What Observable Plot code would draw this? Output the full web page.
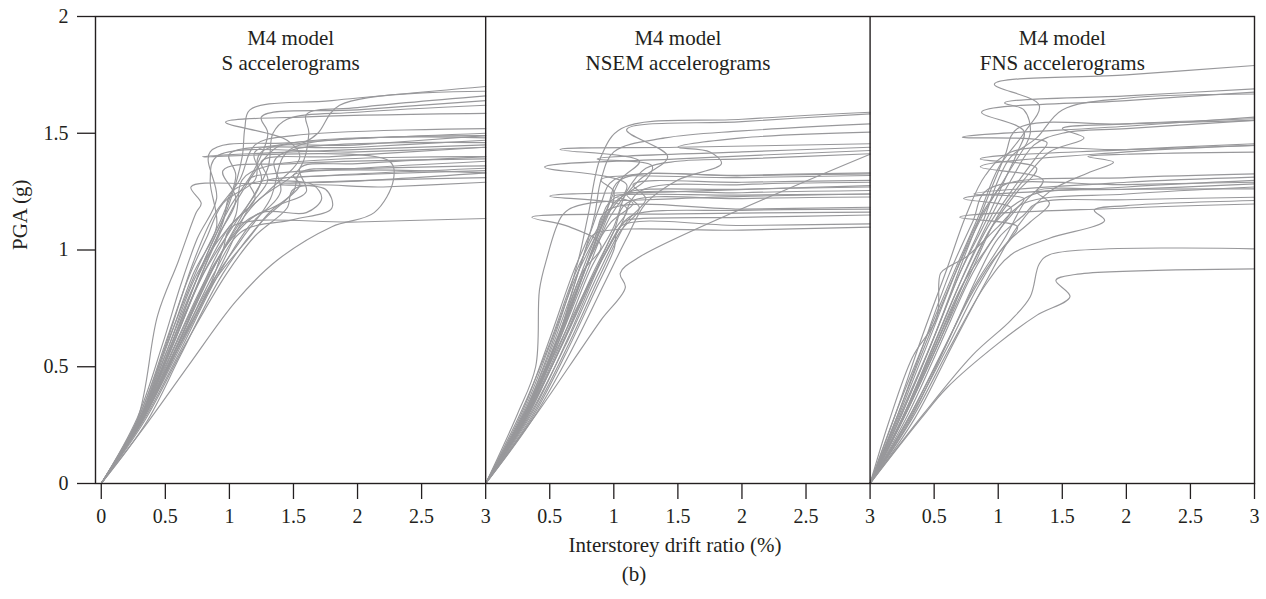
<!DOCTYPE html>
<html><head><meta charset="utf-8">
<script src="https://cdn.jsdelivr.net/npm/d3@7"></script>
<script src="https://cdn.jsdelivr.net/npm/@observablehq/plot@0.6"></script>
<style>body{margin:0;background:#fff}</style>
</head><body><div id="chart"></div>
<script>
// ---- data (drift %, PGA g) ----
const panelNames = ["S", "NSEM", "FNS"];
const panelTitles = ["M4 model\nS accelerograms", "M4 model\nNSEM accelerograms", "M4 model\nFNS accelerograms"];
const xTickValues = [0, 0.5, 1, 1.5, 2, 2.5, 3];
const yTickValues = [0, 0.5, 1, 1.5, 2];
const yLabel = "PGA (g)";
const xLabel = "Interstorey drift ratio (%)";
const caption = "(b)";

const sCurves = [
  [[0,0],[0.28,0.27],[0.44,0.72],[0.6,0.95],[0.74,1.16],[0.78,1.2],[0.70,1.27],[1.2,1.285],[1.8,1.29],[3,1.33]],
  [[0,0],[0.36,0.26],[0.7,0.52],[1.05,0.78],[1.37,0.955],[1.8,1.1],[2.13,1.16],[2.28,1.3],[2.25,1.38],[0.79,1.40],[1.5,1.42],[3,1.45]],
  [[0,0],[0.3,0.27],[0.6,0.58],[0.85,0.85],[0.95,1.0],[1.02,1.1],[2,1.12],[3,1.135]],
  [[0,0],[0.3,0.28],[0.5,0.55],[0.75,0.9],[1.0,1.1],[1.3,1.25],[1.55,1.4],[1.45,1.47],[0.97,1.547],[1.6,1.57],[3,1.585]],
  [[0,0],[0.3,0.27],[0.55,0.6],[0.8,0.95],[1.0,1.2],[1.1,1.4],[1.12,1.52],[1.16,1.60],[1.8,1.64],[3,1.70]],
  [[0,0],[0.32,0.27],[0.6,0.6],[0.9,0.95],[1.1,1.15],[1.3,1.35],[1.34,1.5],[1.45,1.56],[2,1.59],[3,1.62]],
  [[0,0],[0.3,0.28],[0.58,0.62],[0.85,0.98],[1.1,1.25],[1.37,1.44],[1.58,1.46],[1.69,1.50],[1.86,1.62],[3,1.68]],
  [[0,0],[0.3,0.27],[0.6,0.6],[0.9,0.95],[1.2,1.2],[1.55,1.35],[1.62,1.5],[1.6,1.58],[2,1.61],[3,1.66]],
  [[0,0],[0.28,0.27],[0.5,0.58],[0.75,0.92],[0.95,1.15],[1.05,1.32],[1.0,1.41],[2,1.44],[3,1.47]],
  [[0,0],[0.3,0.26],[0.55,0.58],[0.8,0.9],[1.05,1.12],[1.25,1.3],[1.2,1.42],[2,1.45],[3,1.49]],
  [[0,0],[0.33,0.27],[0.6,0.55],[0.9,0.88],[1.15,1.1],[1.4,1.25],[1.35,1.38],[1.5,1.43],[3,1.46]],
  [[0,0],[0.3,0.28],[0.52,0.6],[0.72,0.9],[0.9,1.1],[0.85,1.3],[0.9,1.4],[2,1.42],[3,1.44]],
  [[0,0],[0.35,0.26],[0.62,0.55],[0.95,0.9],[1.25,1.12],[1.5,1.25],[1.55,1.33],[2,1.35],[3,1.38]],
  [[0,0],[0.3,0.27],[0.58,0.6],[0.82,0.88],[1.02,1.05],[1.25,1.16],[1.6,1.16],[1.72,1.22],[1.65,1.28],[1.3,1.30],[3,1.34]],
  [[0,0],[0.32,0.27],[0.6,0.58],[0.88,0.9],[1.1,1.08],[1.5,1.13],[1.8,1.18],[1.75,1.26],[1.4,1.28],[3,1.31]],
  [[0,0],[0.3,0.27],[0.55,0.6],[0.78,0.88],[1.0,1.1],[1.2,1.22],[1.15,1.3],[1.4,1.33],[3,1.36]],
  [[0,0],[0.3,0.26],[0.6,0.6],[0.85,0.92],[1.05,1.15],[1.1,1.3],[1.3,1.36],[3,1.40]],
  [[0,0],[0.33,0.28],[0.65,0.62],[0.95,0.95],[1.15,1.18],[1.3,1.3],[1.25,1.38],[1.8,1.4],[3,1.44]],
  [[0,0],[0.3,0.27],[0.5,0.55],[0.7,0.82],[0.9,1.05],[1.05,1.22],[0.95,1.34],[1.5,1.37],[3,1.39]],
  [[0,0],[0.31,0.27],[0.57,0.58],[0.85,0.9],[1.12,1.12],[1.4,1.2],[1.55,1.28],[1.5,1.32],[3,1.33]],
  [[0,0],[0.29,0.28],[0.5,0.6],[0.68,0.88],[0.82,1.05],[0.95,1.2],[1.2,1.3],[1.25,1.42],[3,1.48]],
  [[0,0],[0.34,0.27],[0.66,0.6],[0.98,0.9],[1.2,1.06],[1.45,1.18],[1.5,1.26],[2.2,1.27],[3,1.29]],
  [[0,0],[0.3,0.27],[0.56,0.6],[0.8,0.92],[0.95,1.12],[1.02,1.25],[1.3,1.3],[1.8,1.32],[3,1.35]],
  [[0,0],[0.28,0.28],[0.48,0.6],[0.62,0.85],[0.75,1.05],[0.9,1.22],[0.85,1.42],[1.5,1.46],[3,1.5]],
  [[0,0],[0.32,0.27],[0.62,0.6],[0.9,0.88],[1.15,1.05],[1.35,1.18],[1.6,1.25],[1.55,1.35],[2,1.37],[3,1.40]],
  [[0,0],[0.31,0.26],[0.58,0.57],[0.85,0.85],[1.1,1.05],[1.32,1.22],[1.42,1.4],[1.55,1.45],[3,1.49]],
  [[0,0],[0.3,0.27],[0.55,0.6],[0.8,0.95],[1.0,1.18],[1.2,1.35],[1.3,1.5],[1.25,1.57],[2,1.6],[3,1.64]],
  [[0,0],[0.3,0.28],[0.52,0.62],[0.72,0.95],[0.88,1.15],[1.08,1.3],[1.2,1.45],[1.5,1.49],[3,1.52]]
];

const nsemCurves = [
  [[0,0],[0.25,0.3],[0.39,0.5],[0.42,0.83],[0.47,0.95],[0.6,1.15],[0.72,1.19],[1.5,1.22],[3,1.24]],
  [[0,0],[0.3,0.27],[0.55,0.6],[0.75,0.9],[0.9,1.02],[0.65,1.1],[0.36,1.14],[1.5,1.155],[3,1.162]],
  [[0,0],[0.32,0.3],[0.6,0.65],[0.8,0.95],[0.95,1.15],[1.1,1.28],[0.46,1.355],[1.5,1.39],[3,1.426]],
  [[0,0],[0.33,0.3],[0.62,0.62],[0.85,0.9],[1.0,1.08],[1.1,1.18],[0.5,1.23],[1.5,1.25],[3,1.276]],
  [[0,0],[0.3,0.28],[0.55,0.6],[0.78,0.92],[0.9,1.1],[1.05,1.3],[1.2,1.38],[0.58,1.43],[1.5,1.44],[3,1.455]],
  [[0,0],[0.3,0.3],[0.55,0.65],[0.72,0.95],[0.8,1.15],[0.9,1.4],[1.06,1.52],[2,1.56],[3,1.59]],
  [[0,0],[0.31,0.28],[0.58,0.62],[0.8,0.92],[0.98,1.15],[1.2,1.3],[1.42,1.40],[1.1,1.515],[2,1.55],[3,1.583]],
  [[0,0],[0.4,0.3],[0.65,0.5],[0.9,0.7],[1.09,0.84],[1.05,0.9],[1.2,0.97],[3,1.41]],
  [[0,0],[0.3,0.28],[0.55,0.6],[0.72,0.9],[0.8,1.03],[0.85,1.07],[2,1.085],[3,1.098]],
  [[0,0],[0.35,0.27],[0.62,0.55],[0.85,0.82],[1.0,1.0],[1.05,1.1],[2,1.105],[3,1.112]],
  [[0,0],[0.29,0.3],[0.52,0.62],[0.7,0.88],[0.85,1.05],[0.95,1.17],[2,1.175],[3,1.183]],
  [[0,0],[0.33,0.29],[0.58,0.58],[0.82,0.88],[1.0,1.08],[1.1,1.2],[2,1.22],[3,1.227]],
  [[0,0],[0.3,0.3],[0.6,0.66],[0.8,0.95],[0.98,1.12],[1.15,1.2],[1.0,1.23],[2,1.235],[3,1.24]],
  [[0,0],[0.27,0.3],[0.5,0.6],[0.7,0.9],[0.88,1.1],[1.0,1.22],[2,1.245],[3,1.255]],
  [[0,0],[0.32,0.28],[0.6,0.6],[0.85,0.9],[1.05,1.1],[1.2,1.25],[2,1.28],[3,1.29]],
  [[0,0],[0.34,0.27],[0.65,0.6],[0.9,0.9],[1.1,1.12],[1.25,1.22],[1.15,1.28],[2,1.29],[3,1.298]],
  [[0,0],[0.3,0.29],[0.56,0.62],[0.76,0.9],[0.92,1.1],[1.0,1.25],[0.9,1.3],[2,1.31],[3,1.319]],
  [[0,0],[0.31,0.3],[0.57,0.64],[0.78,0.95],[0.95,1.18],[1.05,1.3],[2,1.318],[3,1.326]],
  [[0,0],[0.3,0.28],[0.55,0.6],[0.75,0.88],[0.9,1.1],[1.0,1.2],[1.25,1.3],[1.3,1.36],[0.87,1.39],[2,1.42],[3,1.44]],
  [[0,0],[0.36,0.27],[0.66,0.56],[0.92,0.85],[1.1,1.05],[1.25,1.2],[1.5,1.3],[1.84,1.37],[1.75,1.42],[1.5,1.44],[2,1.48],[3,1.505]],
  [[0,0],[0.3,0.3],[0.55,0.63],[0.75,0.95],[0.85,1.15],[0.9,1.3],[1.0,1.42],[1.4,1.48],[2,1.51],[3,1.54]],
  [[0,0],[0.32,0.29],[0.6,0.62],[0.82,0.92],[1.0,1.1],[1.1,1.25],[1.25,1.35],[1.5,1.38],[2,1.39],[3,1.412]],
  [[0,0],[0.33,0.28],[0.63,0.6],[0.88,0.9],[1.05,1.08],[1.2,1.18],[1.1,1.24],[2,1.26],[3,1.27]],
  [[0,0],[0.28,0.3],[0.5,0.62],[0.68,0.9],[0.82,1.08],[0.9,1.2],[1.0,1.3],[2,1.32],[3,1.33]],
  [[0,0],[0.35,0.29],[0.64,0.62],[0.9,0.95],[1.05,1.1],[1.15,1.15],[2,1.17],[3,1.175]],
  [[0,0],[0.3,0.28],[0.56,0.58],[0.8,0.85],[0.95,1.0],[1.08,1.12],[1.12,1.13],[2,1.14],[3,1.15]]
];

const fnsCurves = [
  [[0,0],[0.2,0.3],[0.42,0.6],[0.65,0.9],[0.85,1.15],[1.0,1.35],[1.2,1.5],[1.32,1.62],[0.97,1.71],[2,1.75],[3,1.79]],
  [[0,0],[0.25,0.3],[0.48,0.6],[0.7,0.9],[0.9,1.12],[1.05,1.3],[1.15,1.42],[1.2,1.51],[0.87,1.59],[2,1.64],[3,1.676]],
  [[0,0],[0.22,0.3],[0.45,0.62],[0.68,0.92],[0.88,1.15],[1.1,1.35],[1.25,1.5],[1.2,1.6],[1.05,1.63],[2,1.66],[3,1.69]],
  [[0,0],[0.25,0.28],[0.5,0.6],[0.72,0.88],[0.92,1.1],[1.1,1.25],[1.3,1.4],[1.38,1.46],[0.72,1.483],[2,1.53],[3,1.569]],
  [[0,0],[0.28,0.3],[0.55,0.62],[0.8,0.92],[1.0,1.15],[1.2,1.3],[1.4,1.42],[1.67,1.48],[1.5,1.52],[2,1.54],[3,1.562]],
  [[0,0],[0.24,0.3],[0.5,0.63],[0.72,0.95],[0.9,1.2],[1.05,1.4],[1.15,1.52],[2,1.54],[3,1.555]],
  [[0,0],[0.27,0.29],[0.52,0.6],[0.75,0.88],[0.95,1.1],[1.15,1.25],[1.3,1.35],[0.86,1.39],[2,1.43],[3,1.455]],
  [[0,0],[0.3,0.28],[0.58,0.58],[0.82,0.85],[1.05,1.05],[1.2,1.2],[1.35,1.3],[0.86,1.356],[2,1.42],[3,1.448]],
  [[0,0],[0.35,0.28],[0.65,0.6],[0.92,0.88],[1.15,1.1],[1.4,1.25],[1.7,1.33],[1.9,1.376],[1.7,1.4],[2,1.41],[3,1.419]],
  [[0,0],[0.23,0.3],[0.45,0.6],[0.65,0.88],[0.82,1.1],[0.95,1.22],[1.05,1.28],[2,1.31],[3,1.326]],
  [[0,0],[0.3,0.3],[0.55,0.6],[0.8,0.9],[1.0,1.08],[1.15,1.18],[1.2,1.22],[0.81,1.24],[2,1.29],[3,1.312]],
  [[0,0],[0.26,0.29],[0.5,0.58],[0.72,0.85],[0.9,1.0],[1.05,1.12],[1.1,1.18],[0.73,1.22],[2,1.27],[3,1.298]],
  [[0,0],[0.3,0.28],[0.55,0.55],[0.78,0.8],[0.95,0.95],[1.1,1.05],[1.15,1.1],[0.7,1.14],[2,1.18],[3,1.197]],
  [[0,0],[0.15,0.27],[0.33,0.54],[0.52,0.71],[0.55,0.9],[0.62,0.93],[0.75,0.97],[1.0,1.1],[1.2,1.2],[2,1.24],[3,1.27]],
  [[0,0],[0.33,0.28],[0.62,0.58],[0.9,0.85],[1.1,0.98],[1.4,1.05],[1.83,1.126],[1.75,1.17],[2,1.19],[3,1.212]],
  [[0,0],[0.42,0.3],[0.8,0.55],[1.1,0.7],[1.25,0.8],[1.32,0.94],[1.4,0.98],[3,1.005]],
  [[0,0],[0.4,0.28],[0.6,0.41],[1.0,0.6],[1.3,0.72],[1.56,0.80],[1.45,0.87],[1.6,0.895],[3,0.919]],
  [[0,0],[0.25,0.3],[0.48,0.6],[0.7,0.9],[0.88,1.12],[1.0,1.3],[1.1,1.4],[1.3,1.48],[1.5,1.6],[2,1.65],[3,1.668]],
  [[0,0],[0.28,0.3],[0.55,0.62],[0.78,0.92],[0.98,1.12],[1.2,1.22],[1.35,1.25],[2,1.26],[3,1.283]],
  [[0,0],[0.22,0.3],[0.42,0.6],[0.62,0.9],[0.8,1.12],[0.92,1.26],[2,1.28],[3,1.29]],
  [[0,0],[0.3,0.27],[0.6,0.58],[0.85,0.85],[1.05,1.02],[1.25,1.12],[1.4,1.2],[1.3,1.25],[2,1.26],[3,1.262]],
  [[0,0],[0.2,0.3],[0.4,0.62],[0.6,0.92],[0.75,1.15],[0.9,1.32],[1.1,1.42],[2,1.43],[3,1.448]],
  [[0,0],[0.27,0.3],[0.52,0.62],[0.75,0.92],[0.95,1.15],[1.1,1.3],[1.28,1.45],[1.5,1.5],[2,1.52],[3,1.555]],
  [[0,0],[0.32,0.28],[0.6,0.6],[0.85,0.9],[1.0,1.05],[1.2,1.15],[1.3,1.2],[2,1.215],[3,1.226]]
];

// ---- layout / style settings ----
const panelCurves = [sCurves, nsemCurves, fnsCurves];
const panelSpan = 3;          // each panel shows 0–3 % drift
const xPad = 0.045;           // small left gutter before 0 in first panel
const ink = "#231f20";
const lineColor = "#98989b";

const rows = [];
panelCurves.forEach((curves, p) => {
  curves.forEach((c, i) => {
    c.forEach(([drift, pga], k) => rows.push({panel: panelNames[p], key: p + "-" + i, k, drift, pga, X: drift + p * panelSpan}));
  });
});

const xTicks = [];
panelNames.forEach((_, p) => {
  xTickValues.forEach(v => { if (p > 0 && v === 0) return; xTicks.push({pos: v + p * panelSpan, label: String(v)}); });
});
const tickLabel = new Map(xTicks.map(t => [t.pos, t.label]));

const titleRows = panelTitles.map((t, p) => {
  const lo = p === 0 ? -xPad : p * panelSpan;
  const hi = (p + 1) * panelSpan;
  return {title: t, cx: (lo + hi) / 2};
});

const chart = Plot.plot({
  width: 1266, height: 599,
  marginLeft: 95, marginRight: 12, marginTop: 16, marginBottom: 116,
  style: {fontFamily: "'Liberation Serif', 'DejaVu Serif', serif", fontSize: "20px", color: ink, background: "#fff"},
  x: {domain: [-xPad, panelSpan * panelNames.length], axis: null},
  y: {domain: [0, 2], axis: null},
  marks: [
    Plot.line(rows, {x: "X", y: "pga", z: "key", stroke: lineColor, strokeWidth: 1.15, curve: "catmull-rom"}),
    Plot.ruleX([panelSpan, panelSpan * 2], {stroke: ink, strokeWidth: 1.4}),
    Plot.frame({stroke: ink, strokeWidth: 1.4}),
    Plot.axisY({ticks: yTickValues, tickSize: 18, tickPadding: 9, tickFormat: d => String(d), label: null, fontSize: 20, strokeWidth: 1.3}),
    Plot.axisX({ticks: xTicks.map(t => t.pos), tickSize: 16, tickPadding: 9, tickFormat: d => tickLabel.get(d), label: null, fontSize: 20, strokeWidth: 1.3}),
    Plot.text(titleRows, {x: "cx", frameAnchor: "top", text: "title", lineAnchor: "top", dy: 10, lineHeight: 1.22, fontSize: 21, fill: ink}),
    Plot.text([yLabel], {frameAnchor: "left", rotate: -90, dx: -75, fontSize: 21, fill: ink}),
    Plot.text([xLabel], {frameAnchor: "bottom", dy: 68, fontSize: 21, fill: ink}),
    Plot.text([caption], {frameAnchor: "bottom", dx: -41, dy: 97, fontSize: 21, fill: ink})
  ]
});
document.getElementById("chart").appendChild(chart);
</script>
</body></html>
